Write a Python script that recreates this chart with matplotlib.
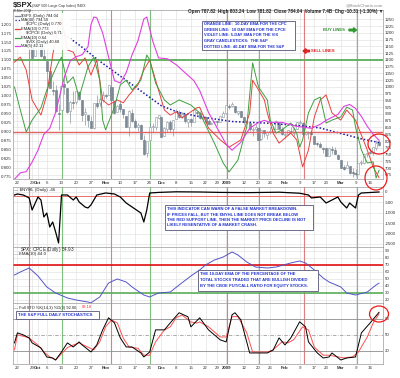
import matplotlib
matplotlib.use("Agg")
import matplotlib.pyplot as plt
import pandas as pd
from matplotlib.patches import Ellipse, Rectangle, FancyArrow

plt.rcParams['font.family'] = ['Liberation Sans', 'DejaVu Sans']

# ---------------- data ----------------
holidays = ["2008-11-27", "2008-12-25", "2009-01-01", "2009-01-19", "2009-02-16"]
days = pd.bdate_range("2008-09-19", "2009-03-19")
days = days[~days.isin(pd.to_datetime(holidays))]

spx_open = [1213, 1255, 1207, 1188, 1186, 1204, 1209, 1113,
            1162, 1160, 1115, 1097, 1057, 988, 989, 902, 913, 1010, 995, 910, 943, 943, 980, 951, 899, 895,
            874, 849, 939, 939, 953,
            969, 971, 1001, 949, 908, 937, 917, 893, 853, 905, 873, 853, 859, 805, 756, 802, 853, 852, 886,
            889, 818, 844, 869, 844, 882, 906, 893, 898, 872, 882, 871, 909, 905, 886, 888, 874, 864, 870,
            873, 871, 890,
            903, 930, 931, 928, 905, 910, 890, 870, 868, 841, 844, 849, 807, 839, 822, 832, 837, 846, 868, 846,
            823, 826, 838, 831, 846, 868, 867, 827, 830, 834, 819, 791, 788, 775, 773, 744, 770, 766, 749,
            730, 705, 699, 709, 684, 680, 679, 720, 720, 751, 758, 754, 776, 797]
spx_high = [1265, 1255, 1214, 1198, 1221, 1216, 1209, 1168,
            1167, 1160, 1153, 1097, 1072, 1022, 1006, 936, 1006, 1045, 995, 948, 985, 985, 985, 951, 922, 896,
            893, 940, 969, 963, 984,
            975, 1007, 1001, 949, 934, 951, 917, 893, 913, 917, 882, 865, 864, 821, 801, 865, 868, 888, 897,
            889, 850, 874, 876, 879, 918, 916, 906, 904, 882, 885, 914, 911, 911, 898, 888, 880, 870, 874,
            874, 891, 910,
            934, 936, 943, 928, 911, 911, 890, 877, 868, 852, 864, 849, 841, 839, 838, 852, 851, 877, 868, 852,
            830, 842, 851, 850, 871, 877, 869, 838, 836, 839, 819, 797, 797, 779, 777, 775, 780, 779, 752,
            730, 712, 725, 709, 699, 695, 720, 731, 752, 758, 775, 779, 803, 803]
spx_low = [1213, 1205, 1187, 1180, 1186, 1188, 1106, 1113,
           1141, 1111, 1098, 1008, 996, 970, 909, 840, 913, 973, 903, 866, 918, 937, 952, 875, 858, 852,
           847, 845, 922, 928, 944,
           958, 971, 949, 900, 907, 907, 884, 850, 818, 869, 848, 837, 806, 748, 741, 802, 835, 842, 880,
           815, 818, 833, 834, 818, 882, 885, 885, 868, 851, 856, 871, 895, 881, 879, 865, 860, 862, 866,
           857, 870, 890,
           899, 919, 927, 905, 896, 888, 864, 862, 837, 818, 837, 804, 805, 815, 806, 827, 835, 846, 844, 821,
           812, 821, 829, 819, 845, 862, 822, 822, 808, 825, 789, 780, 777, 754, 743, 744, 752, 751, 735,
           700, 693, 699, 679, 667, 672, 679, 713, 714, 742, 751, 750, 765, 781]
spx_close = [1255, 1207, 1188, 1186, 1209, 1213, 1106, 1166,
             1161, 1114, 1099, 1057, 996, 985, 910, 899, 1003, 998, 908, 946, 941, 985, 955, 897, 908, 877,
             849, 941, 930, 954, 969,
             966, 1006, 953, 905, 931, 919, 899, 852, 911, 873, 851, 859, 807, 752, 800, 852, 857, 888, 896,
             816, 849, 871, 845, 876, 910, 889, 899, 874, 880, 869, 913, 904, 885, 888, 872, 863, 868, 873,
             869, 891, 903,
             932, 927, 935, 907, 910, 890, 870, 872, 843, 844, 850, 805, 840, 828, 832, 837, 846, 874, 845, 826,
             825, 839, 832, 846, 869, 870, 827, 834, 835, 827, 789, 788, 779, 770, 743, 773, 765, 753, 735,
             701, 696, 713, 683, 683, 677, 720, 721, 751, 757, 754, 778, 794, 784]

sma40_idx = [15, 22, 29, 36, 43, 50, 56, 63, 74, 86, 97, 104, 111, 118, 124]
sma40_val = [1210, 1155, 1095, 1040, 985, 930, 905, 890, 872, 866, 857, 848, 828, 808, 794.5]

cpc_idx = [0, 2, 4, 6, 9, 11, 13, 15, 16, 18, 20, 22, 24, 26, 28, 30, 32, 35, 37, 39,
           42, 44, 46, 48, 51, 53, 55, 57, 60, 62, 63, 66, 70, 73, 77, 80, 81, 83, 85, 86,
           88, 90, 94, 96, 98, 100, 102, 104, 106, 108, 111, 113, 116, 120, 122, 124]
cpc_ema = [1.094, 1.108, 1.072, 0.989, 0.947, 1.003, 1.114, 1.197, 1.217, 1.128, 1.122, 1.086, 1.106, 1.058,
           1.100, 0.989, 0.975, 0.989, 0.981, 1.003, 1.031, 1.072, 1.100, 1.044, 0.961, 0.947, 0.956, 0.939,
           0.956, 0.967, 0.969, 0.911, 0.878, 0.858, 0.878, 0.953, 1.044, 1.017, 0.989, 0.953, 0.897, 0.869,
           0.897, 0.878, 0.803, 0.850, 0.942, 0.989, 1.003, 0.953, 0.933, 0.961, 0.933, 0.850, 0.803, 0.773]

cpce_idx = [0, 2, 4, 6, 9, 11, 13, 15, 16, 18, 20, 22, 25, 27, 29, 30, 31, 34, 36, 38,
            40, 43, 45, 46, 48, 51, 53, 56, 60, 63, 68, 71, 73, 76, 79, 81, 83, 86, 87, 89,
            91, 94, 96, 97, 98, 100, 102, 104, 106, 108, 111, 113, 115, 116, 118, 120, 122, 123, 124]
cpce_ema = [1.025, 0.961, 0.900, 0.933, 0.967, 1.017, 1.058, 1.094, 1.108, 1.036, 1.053, 0.997, 1.081, 1.108,
            1.044, 0.933, 0.906, 0.969, 1.031, 1.044, 1.017, 1.044, 1.114, 1.100, 1.036, 0.989, 0.975, 0.989,
            0.975, 0.953, 0.869, 0.814, 0.789, 0.822, 0.914, 1.092, 1.025, 0.989, 0.933, 0.897, 0.906, 0.925,
            0.897, 0.858, 0.878, 0.953, 0.989, 0.997, 0.925, 0.933, 0.942, 0.969, 0.961, 0.914, 0.850, 0.814,
            0.817, 0.772, 0.794]

vix_idx = [0, 2, 4, 6, 8, 10, 12, 14, 15, 17, 19, 21, 23, 25, 26, 27, 28, 30, 32, 34,
           36, 38, 40, 42, 44, 45, 47, 49, 52, 55, 58, 61, 63, 66, 69, 72, 74, 77, 80, 83,
           85, 87, 91, 96, 101, 104, 106, 110, 112, 114, 116, 118, 120, 122, 124]
vix_sma = [31.2, 32.8, 33.1, 35.5, 38.5, 42.5, 44.0, 48.0, 51.0, 57.0, 61.0, 62.0, 62.5, 64.5, 70, 72.0,
           71.8, 68, 62, 56, 55.4, 58, 62.5, 66, 71.5, 72.0, 66, 61.7, 61.5, 60, 58, 56, 53.5, 48, 44, 40,
           38.5, 40.5, 44, 45.5, 46, 45.5, 45.5, 44.5, 44, 45, 46, 47.5, 49.5, 50, 49, 47, 44.5, 42.5, 41]

nyhl_idx = [0, 1, 3, 5, 6, 8, 9, 10, 11, 12, 13, 14, 15, 16, 18, 20, 21, 22, 24, 25, 26, 28, 31, 34,
            36, 38, 40, 43, 44, 45, 46, 49, 55, 63, 70, 80, 90, 97, 100, 101, 104, 106, 108, 110, 111,
            113, 114, 116, 117, 118, 124]
nyhl_val = [-144, -96, -144, -288, -865, -240, -385, -1202, -1010, -1683, -1442, -1923, -2452, -144,
            -144, -385, -240, -481, -721, -769, -625, -144, -48, -96, -240, -529, -721, -1010, -1442,
            -865, -48, -20, 10, 0, -20, -30, -10, -60, -144, -288, -240, -529, -385, -240, -481, -769,
            -529, -769, -144, -48, 0]

ratio_idx = [0, 2, 5, 8, 11, 14, 18, 21, 25, 26, 29, 32, 35, 38, 40, 44, 46, 49, 53, 56, 60, 63,
             65, 68, 71, 74, 76, 79, 82, 86, 89, 94, 97, 99, 102, 105, 107, 111, 113, 116, 120, 123, 124]
ratio_ema = [55.7, 60, 65.7, 54.3, 38.6, 30, 22.9, 20, 17.1, 15.9, 24.3, 44.3, 50, 45.7, 38.6, 27.1,
             24.3, 30, 31.4, 41.4, 54.3, 62.9, 70, 77.1, 81.4, 88.6, 84.3, 74.3, 67.1, 65.7, 67.1, 72.9,
             75.7, 72.9, 62.9, 51.4, 45.7, 38.6, 30, 27.1, 31.4, 41.4, 44.0]

stok_idx = [0, 1, 3, 5, 6, 9, 11, 13, 14, 16, 18, 20, 22, 23, 26, 28, 30, 32, 34, 36, 38, 40, 43,
            44, 46, 48, 51, 53, 56, 59, 60, 63, 66, 70, 72, 74, 75, 77, 80, 82, 86, 88, 90, 92, 94,
            97, 99, 100, 103, 105, 107, 108, 111, 113, 116, 118, 121, 124]
stok_val = [35, 53.7, 49.9, 44.3, 35, 25.6, 8.7, 6.8, 3.1, 18.1, 35, 27.4, 36.8, 31.2, 18.1, 31.2,
            59.3, 81.8, 72.4, 44.3, 27.4, 27.4, 16.2, 8.7, 18.1, 59.3, 59.3, 72.4, 91.2, 83.7, 64.9,
            81.8, 59.3, 40.6, 36.8, 87.4, 91.2, 78.1, 16.2, 16.2, 16.2, 21.8, 44.3, 31.2, 44.3, 74.3,
            64.9, 36.8, 16.2, 6.8, 8.7, 16.2, 3.1, 6.8, 8.7, 53.7, 72.4, 92.0]
stod_idx = [0, 1, 4, 5, 8, 10, 12, 14, 15, 18, 20, 22, 25, 27, 29, 31, 33, 35, 37, 39, 42, 44, 46,
            48, 51, 53, 55, 57, 60, 62, 63, 66, 70, 72, 74, 76, 79, 81, 86, 88, 91, 93, 95, 98, 100,
            102, 105, 107, 110, 112, 115, 117, 120, 122, 124]
stod_val = [22, 50, 46, 44, 31, 18, 9, 3, 9, 26, 31, 35, 27, 22, 37, 65, 78, 72, 44, 27, 25, 12, 12,
            37, 59, 65, 82, 87, 74, 72, 74, 65, 46, 46, 84, 84, 54, 18, 18, 22, 37, 35, 41, 65, 59, 27,
            12, 12, 9, 7, 9, 18, 46, 72, 89.18]

# signal dates (trading-day index)
buy_idx = [16.2, 46.1, 83.3, 116.5]
sell_idx = [4.9, 32.8, 72.3, 98.4]

tick_dates = ["2008-09-22", "2008-09-29", "2008-10-01", "2008-10-06", "2008-10-13", "2008-10-20",
              "2008-10-27", "2008-11-03", "2008-11-10", "2008-11-17", "2008-11-24", "2008-12-01",
              "2008-12-08", "2008-12-15", "2008-12-22", "2008-12-29", "2009-01-02", "2009-01-12",
              "2009-01-20", "2009-01-26", "2009-02-02", "2009-02-09", "2009-02-17", "2009-02-23",
              "2009-03-02", "2009-03-09", "2009-03-16"]
tick_text = ["22", "29", "Oct", "6", "13", "20", "27", "Nov", "10", "17", "24", "Dec", "8", "15",
             "22", "29", "2009", "12", "20", "26", "Feb", "9", "17", "23", "Mar", "9", "16"]
bold_ticks = ["Oct", "Nov", "Dec", "2009", "Feb", "Mar"]

# ---------------- figure ----------------
W, H = 400, 378
fig = plt.figure(figsize=(4.0, 3.78), dpi=100)
fig.patch.set_facecolor('white')


def px_axes(x0, y0, x1, y1):
    return fig.add_axes([x0 / W, 1 - y1 / H, (x1 - x0) / W, (y1 - y0) / H])


tick_pos = [days.get_loc(pd.Timestamp(d)) for d in tick_dates]
n = len(days)
XL = (-0.5, 125.35)
FS = 3.2
GRID = '#e3e3e3'
RED = '#e8413c'
GREEN = '#3f9f3f'
VLRED = '#dd7f7f'
VLGREEN = '#7fc07f'


def style(ax, yticks, ylim, xlabels=False):
    ax.set_xlim(*XL)
    ax.set_ylim(*ylim)
    ax.set_yticks(yticks)
    ax.set_yticklabels([str(v) for v in yticks], fontsize=FS, color='#333333')
    ax.yaxis.tick_right()
    ax.set_xticks(tick_pos)
    if xlabels:
        ax.set_xticklabels(tick_text, fontsize=FS, color='#333333')
        for lab in ax.get_xticklabels():
            if lab.get_text() in bold_ticks:
                lab.set_fontweight('bold')
    else:
        ax.set_xticklabels([])
    ax.tick_params(length=0, pad=1.2)
    ax.grid(True, color=GRID, lw=0.5)
    ax.set_axisbelow(True)
    for s in ax.spines.values():
        s.set_color('#9a9a9a')
        s.set_linewidth(0.5)
    for b in buy_idx:
        ax.axvline(b, color=VLGREEN, lw=0.8, zorder=1)
    for s_ in sell_idx:
        ax.axvline(s_, color=VLRED, lw=0.8, zorder=1)


# main price panel
ax = px_axes(13, 10, 383, 179)
style(ax, list(range(675, 1251, 25)), (659.6, 1284.2), xlabels=True)
for i in range(n):
    o, h, l, c = spx_open[i], spx_high[i], spx_low[i], spx_close[i]
    ax.vlines(i, l, h, color='#8a949c', lw=0.5, zorder=2)
    if c >= o:
        ax.bar(i, max(c - o, 1), bottom=o, width=0.7, color='white', edgecolor='#8a949c', lw=0.4, zorder=3)
    else:
        ax.bar(i, o - c, bottom=c, width=0.7, color='#7d8a96', edgecolor='#6d7a86', lw=0.4, zorder=3)
ax.plot(sma40_idx, sma40_val, color='#1c1ca8', lw=1.1, ls=(0, (1, 1.3)), zorder=4)

axc = ax.twinx()
axv = ax.twinx()
# twinx moves the parent's ticks to the left; put them back on the right
ax.yaxis.tick_right()

axc.set_xlim(*XL)
axc.set_ylim(0.7694, 1.2389)
ct = [0.775 + 0.025 * k for k in range(18)]
axc.set_yticks(ct)
axc.set_yticklabels(['%.3f' % v for v in ct], fontsize=FS, color='#333333')
axc.yaxis.tick_left()
axc.tick_params(length=0, pad=1.2)
for s in axc.spines.values():
    s.set_visible(False)
axc.axhline(1.100, color='#5cae5c', lw=1.3, zorder=1)
axc.axhline(0.900, color='#e06464', lw=1.0, zorder=1)
axc.plot(cpc_idx, cpc_ema, color=RED, lw=0.7)
axc.plot(cpce_idx, cpce_ema, color=GREEN, lw=0.7)

axv.set_xlim(*XL)
axv.set_ylim(31.25, 73.76)
axv.set_yticks([])
axv.tick_params(length=0)
for s in axv.spines.values():
    s.set_visible(False)
axv.plot(vix_idx, vix_sma, color='#e040e0', lw=0.8)

# NYHL panel
ax2 = px_axes(13, 187, 383, 247)
style(ax2, [0, -500, -1000, -1500, -2000, -2500], (-2645, 240))
ax2.axhline(-200, color='#ee7070', lw=0.7)
ax2.plot(nyhl_idx, nyhl_val, color='black', lw=0.9)

# SPX:CPCE panel
ax3 = px_axes(13, 247, 383, 303)
style(ax3, [20, 30, 40, 50, 60, 70, 80, 90], (15.7, 95.7))
ax3.axhline(70, color='#e01010', lw=1.2)
ax3.axhline(30, color='#5cae5c', lw=1.2)
ax3.plot(ratio_idx, ratio_ema, color='#5555c8', lw=0.7)

# stochastics panel
ax4 = px_axes(13, 303, 383, 364)
style(ax4, [20, 50, 80], (-4.4, 109.4), xlabels=True)
ax4.grid(False, axis='y')
ax4.axhline(80, color='#8c8c8c', lw=0.6)
ax4.axhline(20, color='#8c8c8c', lw=0.6)
ax4.axhline(50, color='#8c8c8c', lw=0.5, ls=(0, (5, 2, 1, 2)))
ax4.plot(stod_idx, stod_val, color='#ff5050', lw=0.7)
ax4.plot(stok_idx, stok_val, color='black', lw=0.7)

# ---------------- overlay annotations ----------------
ov = fig.add_axes([0, 0, 1, 1])
ov.set_xlim(0, W)
ov.set_ylim(H, 0)
ov.axis('off')

ov.text(13, 5, '$SPX', fontsize=5.6, fontweight='bold', va='center', color='#222222')
ov.text(32, 5.5, '(S&P 500 Large Cap Index) INDX', fontsize=2.6, va='center', color='#333333')
ov.text(13, 11, '19-Mar-2009', fontsize=2.4, va='center', color='#333333')
ov.text(383, 11, 'Open 787.82  High 803.24  Low 781.82  Close 784.04  Volume 7.4B  Chg -10.31 (-1.30%) \u25BC',
        fontsize=3.3, fontweight='bold', ha='right', va='center', color='#222222')
ov.text(383, 5, '@StockCharts.com', fontsize=3.2, ha='right', va='center', color='#888888')

# main legend
ov.add_patch(Rectangle((14, 12.5), 57, 37, facecolor='white', edgecolor='none', alpha=0.92, zorder=5))
leg = [('$SPX (Daily) 784.04', '#7d8a96', '-'),
       ('MA(40) 794.50', '#1c1ca8', ':'),
       ('$CPC (Daily) 0.770', None, None),
       ('EMA(10) 0.773', RED, '-'),
       ('$CPCE (Daily) 0.71', None, None),
       ('EMA(10) 0.64', GREEN, '-'),
       ('$VIX (Daily) 40.68', None, None),
       ('MA(5) 42.11', '#e040e0', '-')]
for k, (txt, col, ls) in enumerate(leg):
    y = 15.5 + k * 4.4
    if col is not None:
        ov.plot([15, 20], [y, y], color=col, lw=0.9, ls=ls, zorder=6)
        ov.text(21, y, txt, fontsize=3.0, va='center', color='#222222', zorder=6)
    else:
        ov.text(26, y, txt, fontsize=3.0, va='center', color='#222222', zorder=6)

BLUE = '#2233cc'
box_kw = dict(facecolor='white', edgecolor='#555577', lw=0.6, zorder=5)

ov.add_patch(Rectangle((202, 20.5), 93, 29.5, **box_kw))
for k, t in enumerate(['ORANGE LINE:  10-DAY EMA FOR THE CPC',
                       'GREEN LINE:  10 DAY EMA FOR THE CPCE',
                       'VIOLET LINE: 5-DAY SMA FOR THE VIX',
                       'GRAY CANDLESTICKS:  THE S&P',
                       'DOTTED LINE: 40-DAT SMA FOR THE S&P']):
    ov.text(204, 24 + k * 5.7, t, fontsize=2.85, fontweight='bold', color=BLUE, va='center', zorder=6)

ov.text(323, 30, 'BUY LINES', fontsize=3.0, fontweight='bold', color='#2e8b2e', va='center')
ov.add_patch(FancyArrow(349, 30, 4.5, 0, width=1.6, head_width=4.5, head_length=3, color='#2e9a2e'))
ov.text(311, 51, 'SELL LINES', fontsize=3.0, fontweight='bold', color='#dd2222', va='center')
ov.add_patch(FancyArrow(309.5, 51, -3.5, 0, width=1.6, head_width=4.5, head_length=3, color='#dd2222'))

ov.add_patch(Rectangle((165, 205), 148, 24.5, **box_kw))
for k, t in enumerate(['THIS INDICATOR CAN WARN OF A FALSE MARKET BREAKDOWN.',
                       'IF PRICES FALL, BUT THE $NYHL LINE DOES NOT BREAK BELOW',
                       'THE RED SUPPORT LINE, THEN THE MARKET PRICE DECLINE IS NOT',
                       'LIKELY RESENTATIVE OF A MARKET CRASH.']):
    ov.text(167, 209 + k * 5.4, t, fontsize=3.0, fontweight='bold', color=BLUE, va='center', zorder=6)

ov.add_patch(Rectangle((198, 269.5), 120, 21.5, **box_kw))
for k, t in enumerate(['THE 10-DAY EMA OF THE PERCENTAGE OF THE',
                       'TOTAL STOCKS TRADED THAT ARE BULLISH DIVIDED',
                       'BY THE CBOE PUT/CALL RATIO FOR EQUITY STOCKS.']):
    ov.text(200, 274 + k * 6.0, t, fontsize=2.95, fontweight='bold', color=BLUE, va='center', zorder=6)

ov.add_patch(Rectangle((16, 311), 83, 7.5, **box_kw))
ov.text(18, 314.8, 'THE S&P FULL DAILY STOCHASTICS', fontsize=3.1, fontweight='bold', color=BLUE,
        va='center', zorder=6)

# panel labels
ov.text(14, 190, '\u2014 $NYHL (Daily) -46', fontsize=3.2, va='center', color='#222222')
ov.text(20, 249.5, '$SPX:$CPCE (Daily) 54.93', fontsize=3.3, va='center', color='#222222')
ov.text(14, 254.5, '\u2014', fontsize=3.2, va='center', color='#5555c8')
ov.text(19, 254.5, 'EMA(10) 44.0', fontsize=3.2, va='center', color='#222222')
ov.text(14, 307.5, '\u2014 Full STO %K(14,3) %D(3) 92.00,', fontsize=2.9, va='center', color='#222222')
ov.text(82, 307.5, '89.18', fontsize=2.9, va='center', color='#ff3030')

# red circles
for (cx, cy, w, h) in [(379, 144, 22, 20), (376, 178, 22, 24), (379, 314, 19, 16)]:
    ov.add_patch(Ellipse((cx, cy), w, h, fill=False, edgecolor='#ee1c1c', lw=0.9, zorder=7))

fig.savefig('out.png', dpi=100, facecolor='white')
print('done')
